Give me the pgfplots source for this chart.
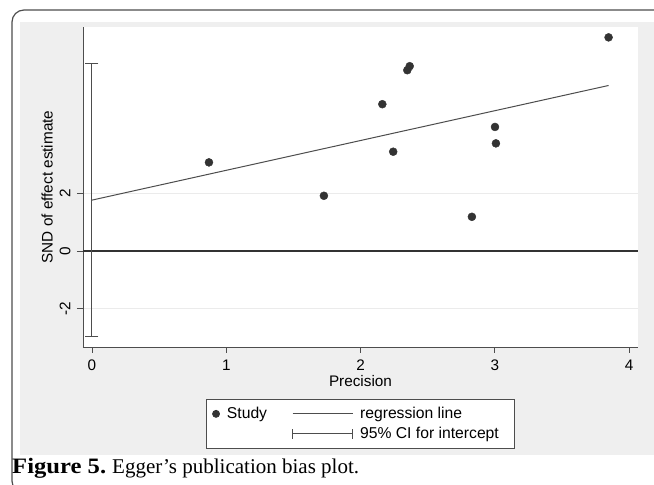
\documentclass[border=0pt]{standalone}
\usepackage{pgfplots}
\pgfplotsset{compat=1.18}
\usepackage{fontspec}
\setmainfont{Liberation Serif}
\newfontfamily\arial{Liberation Sans}
\definecolor{bgg}{HTML}{EFEFEF}
\definecolor{dk}{HTML}{333333}
\definecolor{ln}{HTML}{4D4D4D}
\definecolor{grd}{HTML}{EBEBEB}
\newcommand\af{\arial\fontsize{15.3}{18}\selectfont}
\newcommand\lf{\arial\fontsize{15.7}{18}\selectfont}
\begin{document}
\begin{tikzpicture}[x=1pt,y=1pt]
\useasboundingbox (0,0) rectangle (654,485);
\begin{scope}
\clip (0,0) rectangle (654,485);
\draw[line width=1.2pt, color=ln, rounded corners=12pt] (12,-8) rectangle (670,475);
\end{scope}
\fill[bgg] (20,30) rectangle (654,463);
\begin{axis}[
  at={(83pt,138pt)}, anchor=south west,
  scale only axis, width=555pt, height=320pt,
  xmin=-0.067, xmax=4.066, ymin=-3.33, ymax=7.78,
  axis x line*=bottom, axis y line*=left,
  axis line style={ln, line width=0.9pt},
  axis background/.style={fill=white},
  xtick={0,1,2,3,4}, ytick={-2,0,2},
  tick align=outside, major tick length=6pt,
  tick style={ln, line width=0.8pt},
  ymajorgrids, grid style={grd, line width=0.9pt},
  /pgf/number format/assume math mode=true,
  ticklabel style={font=\af},
  xticklabel style={inner sep=1pt, text depth=0pt, yshift=-5.5pt},
  yticklabel style={rotate=90, anchor=south},
  yticklabel shift=3pt,
  label style={font=\af},
  xlabel={Precision}, ylabel={SND of effect estimate},
  xlabel style={inner sep=0.5pt, text height=11pt, text depth=0pt, yshift=-3.5pt},
  ylabel style={yshift=0pt},
  legend columns=2,
  legend cell align=left,
  legend style={at={(0.5,-0.1625)}, anchor=north, draw=ln, line width=0.8pt, fill=white, font=\lf,
    /tikz/every odd column/.append style={column sep=5pt},
    /tikz/every even column/.append style={column sep=23pt},
    row sep=3pt, inner xsep=5.5pt, inner ysep=6pt},
]
\addplot[dk, line width=1.2pt, forget plot] coordinates {(-0.067,0) (4.066,0)};
\addplot[only marks, mark=*, mark size=4pt, color=dk,
  legend image code/.code={\fill[dk] (3.5pt,0pt) circle (3.5pt);}] coordinates {
(0.871,3.08) (1.727,1.92) (2.162,5.10) (2.243,3.45) (2.348,6.28)
(2.366,6.42) (2.829,1.19) (3.001,4.31) (3.008,3.74) (3.847,7.42)};
\addlegendentry{Study}
\addplot[ln, line width=1pt,
  legend image code/.code={\draw[ln, line width=1pt] (0pt,0pt) -- (60pt,0pt);}] coordinates {(0,1.77) (3.847,5.75)};
\addlegendentry{regression line}
\addlegendimage{empty legend}
\addlegendentry{}
\addplot[ln, line width=1pt, mark=-, mark size=6.5pt, mark options={ln, line width=1pt},
  legend image code/.code={\draw[ln, line width=1pt] (0pt,0pt) -- (60pt,0pt); \draw[ln, line width=1pt] (0pt,-5pt) -- (0pt,5pt); \draw[ln, line width=1pt] (60pt,-5pt) -- (60pt,5pt);}] coordinates {(0,-2.98) (0,6.52)};
\addlegendentry{95\% CI for intercept\hspace*{8pt}}
\end{axis}
\node[anchor=base west, inner sep=0pt] at (12,11) {\scalebox{1.12}[1]{\fontsize{22}{24}\selectfont\bfseries Figure 5.}\hspace{6pt}{\fontsize{21}{24}\selectfont Egger’s publication bias plot.}};
\end{tikzpicture}
\end{document}
